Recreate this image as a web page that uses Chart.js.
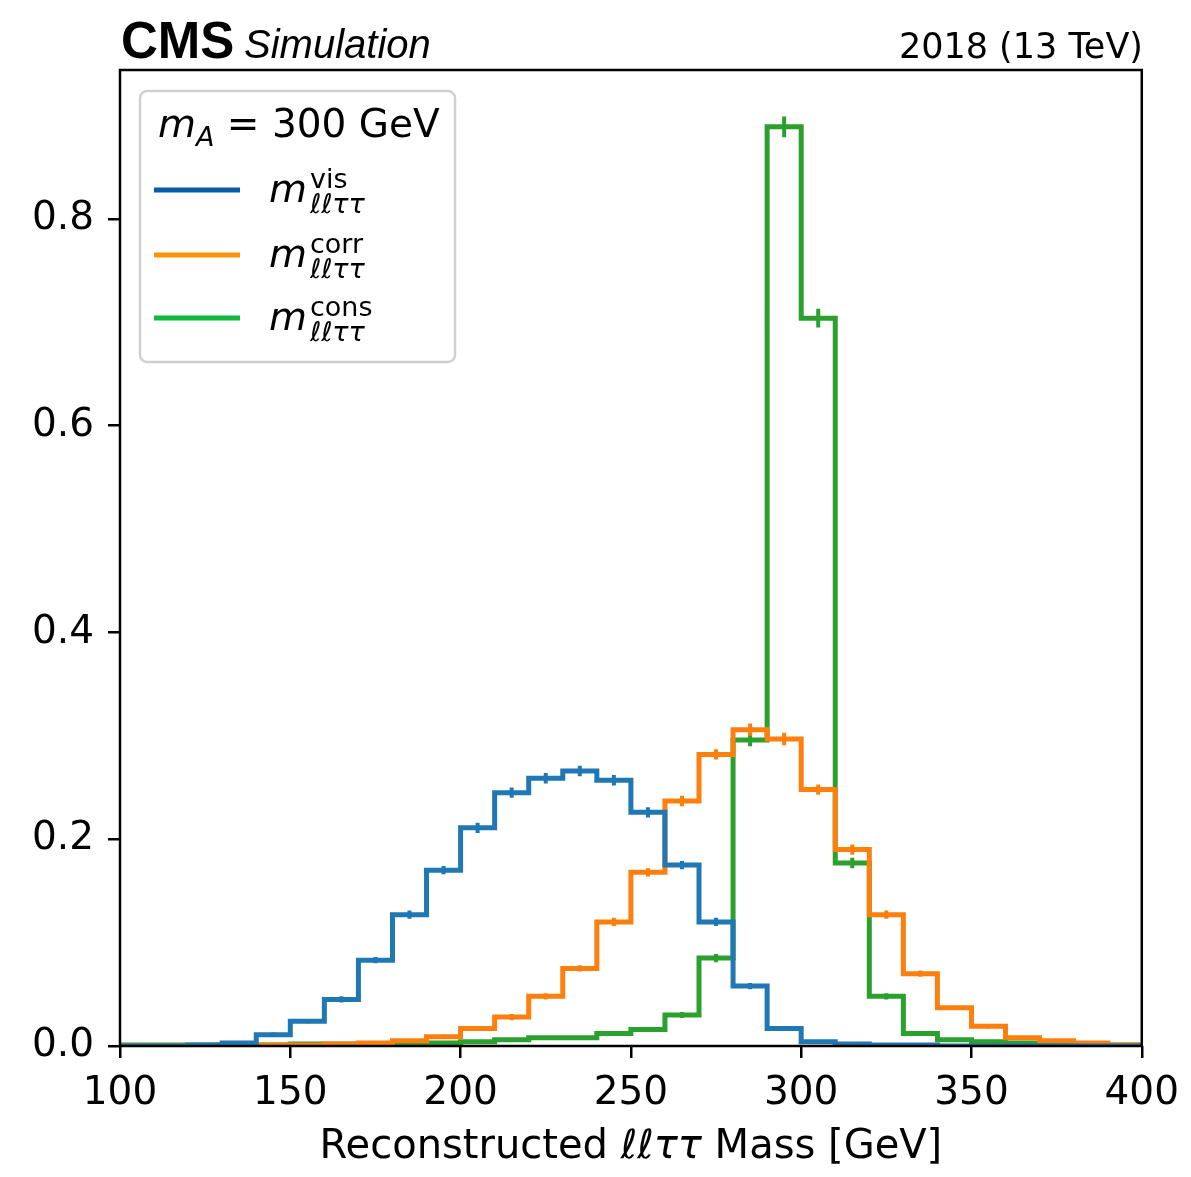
<!DOCTYPE html>
<html><head><meta charset="utf-8">
<script src="https://cdn.jsdelivr.net/npm/chart.js@4.4.0/dist/chart.umd.min.js"></script>
<style>html,body{margin:0;padding:0;background:#fff;}#wrap{width:1191px;height:1177px;}</style>
</head><body><div id="wrap"><canvas id="c" width="1191" height="1177"></canvas></div>
<script>
// ---- data ----
const binEdges = [100,110,120,130,140,150,160,170,180,190,200,210,220,230,240,250,260,270,280,290,300,310,320,330,340,350,360,370,380,390,400];
const visValues  = [0,0,0.001,0.003,0.011,0.024,0.045,0.083,0.127,0.170,0.211,0.245,0.259,0.266,0.257,0.226,0.175,0.120,0.058,0.017,0.004,0.002,0.001,0.001,0,0,0,0,0,0];
const corrValues = [0,0,0,0.001,0.001,0.001,0.002,0.003,0.005,0.009,0.017,0.028,0.048,0.075,0.120,0.168,0.237,0.282,0.306,0.297,0.248,0.190,0.127,0.070,0.037,0.019,0.008,0.005,0.003,0.001];
const consValues = [0.001,0.001,0.001,0.001,0.001,0.002,0.002,0.002,0.002,0.003,0.004,0.006,0.008,0.008,0.012,0.016,0.030,0.085,0.296,0.889,0.704,0.177,0.048,0.012,0.006,0.004,0.003,0.002,0.002,0.001];
const visErrors  = [0,0,0,0.001,0.002,0.002,0.003,0.003,0.004,0.004,0.005,0.005,0.005,0.005,0.005,0.005,0.004,0.004,0.003,0.002,0.001,0.001,0,0,0,0,0,0,0,0];
const corrErrors = [0,0,0,0,0,0,0.001,0.001,0.001,0.002,0.002,0.003,0.003,0.003,0.004,0.004,0.005,0.005,0.006,0.006,0.005,0.005,0.004,0.003,0.002,0.002,0.001,0.001,0,0];
const consErrors = [0,0,0,0,0,0,0,0,0,0,0.001,0.001,0.001,0.001,0.002,0.002,0.003,0.004,0.006,0.010,0.009,0.005,0.003,0.002,0.001,0.001,0,0,0,0];
const xTicks = [100,150,200,250,300,350,400];
const yTicks = [0,0.2,0.4,0.6,0.8];
const seriesLabels = ['m_{ℓℓττ}^{vis}','m_{ℓℓττ}^{corr}','m_{ℓℓττ}^{cons}'];
const seriesSup = ['vis','corr','cons'];
const seriesColors = ['#1f77b4','#ff7f0e','#2ca02c'];
const legendColors = ['#0b5aa8','#ff9408','#10b93c'];
const legendTitle = ['m','A',' = 300 GeV'];
const xTitle = ['Reconstructed ','ℓℓττ',' Mass [GeV]'];

const allValues = [visValues, corrValues, consValues];
const allErrors = [visErrors, corrErrors, consErrors];

// stepped 'before': the segment [e_i, e_i+1] takes the value of point i
const datasets = allValues.map((vals, k) => ({
  label: seriesLabels[k],
  data: binEdges.map((e, i) => ({x: e, y: vals[Math.min(i, vals.length - 1)]})),
  stepped: 'before',
  borderColor: seriesColors[k],
  backgroundColor: seriesColors[k],
  borderWidth: 5,
  pointRadius: 0,
  fill: false,
  tension: 0
}));

const errPlugin = {
  id: 'errbars',
  afterDatasetDraw(chart, args) {
    const k = args.index;
    const ctx = chart.ctx, xs = chart.scales.x, ys = chart.scales.y, ca = chart.chartArea;
    ctx.save();
    ctx.beginPath(); ctx.rect(ca.left, ca.top, ca.right - ca.left, ca.bottom - ca.top); ctx.clip();
    ctx.strokeStyle = seriesColors[k];
    ctx.lineWidth = 4;
    allValues[k].forEach((v, i) => {
      const err = allErrors[k][i];
      if (!err) return;
      const xc = xs.getPixelForValue((binEdges[i] + binEdges[i + 1]) / 2);
      ctx.beginPath();
      ctx.moveTo(xc, ys.getPixelForValue(v - err));
      ctx.lineTo(xc, ys.getPixelForValue(v + err));
      ctx.stroke();
    });
    ctx.restore();
  }
};

function drawParts(ctx, parts, x, y) {
  let cx = x;
  parts.forEach(p => {
    ctx.font = p[1];
    ctx.fillText(p[0], cx, y + (p[2] || 0));
    cx += ctx.measureText(p[0]).width;
  });
  return cx;
}
function partsWidth(ctx, parts) {
  let w = 0;
  parts.forEach(p => { ctx.font = p[1]; w += ctx.measureText(p[0]).width; });
  return w;
}

const decoPlugin = {
  id: 'deco',
  afterDraw(chart) {
    const ctx = chart.ctx, ca = chart.chartArea;
    ctx.save();
    ctx.strokeStyle = '#000'; ctx.lineWidth = 2.5;
    ctx.strokeRect(ca.left, ca.top, ca.right - ca.left, ca.bottom - ca.top);
    ctx.fillStyle = '#000';
    ctx.textBaseline = 'alphabetic';
    ctx.textAlign = 'left';
    ctx.font = 'bold 51px "Liberation Sans"';
    ctx.fillText('CMS', 121, 58);
    ctx.font = 'italic 40px "Liberation Sans"';
    ctx.fillText('Simulation', 244, 58);
    ctx.textAlign = 'right';
    ctx.font = '35px "DejaVu Sans"';
    ctx.fillText('2018 (13 TeV)', 1143, 58);
    ctx.textAlign = 'left';
    const xt = [[xTitle[0], '40px "DejaVu Sans"'], [xTitle[1], 'italic 40px "DejaVu Sans"'], [xTitle[2], '40px "DejaVu Sans"']];
    const w = partsWidth(ctx, xt);
    drawParts(ctx, xt, (ca.left + ca.right) / 2 - w / 2, 1158);
    // legend box
    const bx = 140, by = 91, bw = 315, bh = 271, r = 7;
    ctx.beginPath();
    ctx.moveTo(bx + r, by); ctx.lineTo(bx + bw - r, by); ctx.arcTo(bx + bw, by, bx + bw, by + r, r);
    ctx.lineTo(bx + bw, by + bh - r); ctx.arcTo(bx + bw, by + bh, bx + bw - r, by + bh, r);
    ctx.lineTo(bx + r, by + bh); ctx.arcTo(bx, by + bh, bx, by + bh - r, r);
    ctx.lineTo(bx, by + r); ctx.arcTo(bx, by, bx + r, by, r); ctx.closePath();
    ctx.fillStyle = 'rgba(255,255,255,0.85)'; ctx.fill();
    ctx.strokeStyle = '#d0d0d0'; ctx.lineWidth = 2.5; ctx.stroke();
    ctx.fillStyle = '#000';
    drawParts(ctx, [[legendTitle[0], 'italic 39px "DejaVu Sans"'], [legendTitle[1], 'italic 27px "DejaVu Sans"', 9], [legendTitle[2], '39px "DejaVu Sans"']], 158, 137);
    const rows = [190, 255, 318];
    rows.forEach((ly, k) => {
      ctx.strokeStyle = legendColors[k]; ctx.lineWidth = 5;
      ctx.beginPath(); ctx.moveTo(154, ly); ctx.lineTo(240, ly); ctx.stroke();
      ctx.fillStyle = '#000';
      ctx.font = 'italic 39px "DejaVu Sans"';
      ctx.fillText('m', 269, ly + 12);
      const mx = 269 + ctx.measureText('m').width + 3;
      ctx.font = '27px "DejaVu Sans"';
      ctx.fillText(seriesSup[k], mx, ly - 2);
      ctx.font = 'italic 27px "DejaVu Sans"';
      ctx.fillText('ℓℓττ', mx, ly + 23);
    });
    ctx.restore();
  }
};

new Chart(document.getElementById('c'), {
  type: 'line',
  data: {datasets},
  plugins: [errPlugin, decoPlugin],
  options: {
    responsive: false, animation: false, devicePixelRatio: 1,
    layout: {padding: {top: 70, right: 46, left: 0, bottom: 0}},
    plugins: {legend: {display: false}, tooltip: {enabled: false}},
    scales: {
      x: {
        type: 'linear', min: 100, max: 400,
        afterBuildTicks: s => { s.ticks = xTicks.map(v => ({value: v})); },
        afterFit: s => { s.height = 131; },
        grid: {display: true, drawOnChartArea: false, drawTicks: true, tickLength: 12, lineWidth: 2.5, tickWidth: 2.5, tickColor: '#000', color: '#000'},
        border: {display: false},
        ticks: {color: '#000', font: {family: 'DejaVu Sans', size: 39}, padding: 12, maxRotation: 0, autoSkip: false, callback: v => String(v)}
      },
      y: {
        type: 'linear', min: 0, max: 0.944,
        afterBuildTicks: s => { s.ticks = yTicks.map(v => ({value: v})); },
        afterFit: s => { s.width = 120; },
        grid: {display: true, drawOnChartArea: false, drawTicks: true, tickLength: 12, lineWidth: 2.5, tickWidth: 2.5, tickColor: '#000', color: '#000'},
        border: {display: false},
        ticks: {color: '#000', font: {family: 'DejaVu Sans', size: 39}, padding: 14, autoSkip: false, callback: v => v.toFixed(1)}
      }
    }
  }
});
</script></body></html>
